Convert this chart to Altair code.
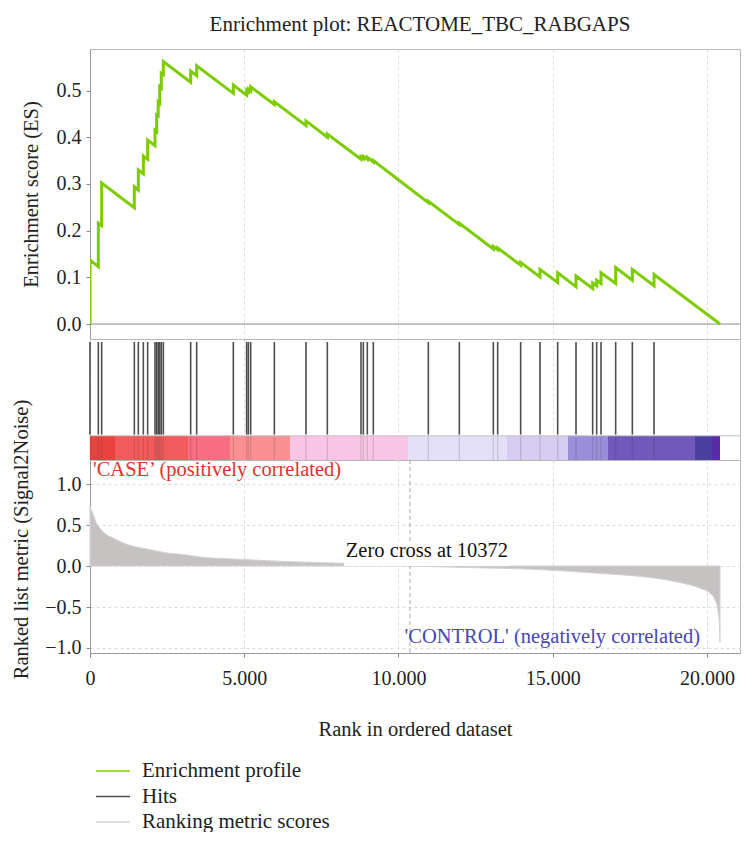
import altair as alt
import pandas as pd

TITLE = "Enrichment plot: REACTOME_TBC_RABGAPS"
N_GENES = 20422
ZERO_CROSS = 10372
X_MAX = 21070

# ---- hits (rank positions) and running ES just before / after each hit ----
hit_ranks = [0, 270, 378, 1437, 1567, 1729, 1869, 2107, 2161, 2210, 2260, 2310, 2377,
             3263, 3458, 4646, 5078, 5132, 5208, 5975, 7001, 7693, 8784, 8860, 8989, 9184,
             10967, 11972, 13074, 13215, 13960, 14587, 15160, 15754, 16294, 16424, 16565,
             17040, 17580, 18283]
es_before = [0.000, 0.123, 0.211, 0.249, 0.287, 0.322, 0.353, 0.382, 0.412, 0.446, 0.473, 0.505, 0.534,
             0.518, 0.532, 0.494, 0.490, 0.497, 0.499, 0.470, 0.425, 0.400, 0.353, 0.354, 0.353, 0.347,
             0.260, 0.213, 0.161, 0.159, 0.126, 0.101, 0.089, 0.080, 0.076, 0.082, 0.087,
             0.087, 0.094, 0.082]
es_after = [0.137, 0.216, 0.302, 0.294, 0.330, 0.360, 0.394, 0.415, 0.448, 0.476, 0.508, 0.537, 0.562,
            0.542, 0.553, 0.512, 0.500, 0.503, 0.508, 0.476, 0.435, 0.407, 0.358, 0.359, 0.357, 0.350,
            0.263, 0.216, 0.166, 0.163, 0.132, 0.117, 0.110, 0.103, 0.088, 0.094, 0.110,
            0.121, 0.117, 0.106]

# ---- ranked list metric ----
metric_ranks = [0, 108, 216, 324, 540, 756, 1080, 1405, 1945, 2485, 3025, 3565, 4646, 5726,
                6807, 7887, 10372, 12415, 14360, 16530, 18150, 19220, 19770, 20096, 20260,
                20360, 20410, 20422]
metric_values = [0.72, 0.62, 0.52, 0.46, 0.38, 0.34, 0.28, 0.24, 0.20, 0.16, 0.14, 0.11, 0.085, 0.065,
                 0.049, 0.037, 0.0, -0.02, -0.04, -0.09, -0.14, -0.21, -0.27, -0.33, -0.41,
                 -0.55, -0.75, -0.93]

# ---- colour bar segments ----
bar_starts = [0, 810, 3177, 4538, 6483, 10308, 13517, 15494, 16791, 19611, 20162]
bar_ends = [810, 3177, 4538, 6483, 10308, 13517, 15494, 16791, 19611, 20162, 20422]
bar_colors = ["#e8433f", "#f25b5b", "#f76d82", "#fa9092", "#f8c6e4", "#e3dff6",
              "#d7ccf1", "#9a8edb", "#7059bb", "#4b3fa0", "#5b2aa8"]

x_ticks = [0, 5000, 10000, 15000, 20000]
es_ticks = [0.0, 0.1, 0.2, 0.3, 0.4, 0.5]
metric_ticks = [-1.0, -0.5, 0.0, 0.5, 1.0]

series_names = ["Enrichment profile", "Hits", "Ranking metric scores"]
series_colors = ["#7ccc00", "#4d4d4d", "#d3d3d3"]

case_label = "'CASE\u2019 (positively correlated)"
control_label = "'CONTROL' (negatively correlated)"
zero_label = f"Zero cross at {ZERO_CROSS}"

FONT = "Liberation Serif, DejaVu Serif, serif"

# ---- tables ----
pts_rank = [0]
pts_es = [0.0]
for r, b, a in zip(hit_ranks, es_before, es_after):
    pts_rank += [r, r]
    pts_es += [b, a]
pts_rank.append(N_GENES)
pts_es.append(0.0)
es_df = pd.DataFrame({"rank": pts_rank, "es": pts_es, "idx": range(len(pts_rank)),
                      "series": series_names[0]})
hits_df = pd.DataFrame({"rank": hit_ranks, "series": series_names[1]})
metric_df = pd.DataFrame({"rank": metric_ranks, "value": metric_values, "series": series_names[2]})
bar_df = pd.DataFrame({"start": bar_starts, "end": bar_ends, "color": bar_colors})
one = pd.DataFrame({"k": [0]})

W = 650
xscale = alt.Scale(domain=[0, X_MAX], nice=False, zero=False)
stroke_scale = alt.Scale(domain=series_names, range=series_colors)
legend = alt.Legend(title=None, orient="none", legendX=12, legendY=711, direction="vertical",
                    symbolType="M-1.7,0H1.7", symbolSize=400, symbolStrokeWidth=1.5,
                    labelFontSize=21, labelFont=FONT, labelColor="#222", labelOffset=18,
                    labelLimit=400, rowPadding=4.5, padding=0)
hidden_x = alt.Axis(values=x_ticks, labels=False, ticks=False, domain=False, grid=True, title=None)

# ---- panel A: enrichment score ----
es_scale = alt.Scale(domain=[-0.032, 0.589], nice=False, zero=False)
zero_rule = alt.Chart(one).mark_rule(color="#8a8a8a", strokeWidth=1).encode(
    y=alt.YDatum(0, scale=es_scale))
es_line = alt.Chart(es_df).mark_line(strokeWidth=3, clip=True).encode(
    x=alt.X("rank:Q", scale=xscale, axis=hidden_x),
    y=alt.Y("es:Q", scale=es_scale,
            axis=alt.Axis(values=es_ticks, format=".1f", title="Enrichment score (ES)",
                          titlePadding=15)),
    order="idx:Q",
    stroke=alt.Stroke("series:N", scale=stroke_scale, legend=legend),
)
panel_a = alt.layer(zero_rule, es_line).properties(width=W, height=290)

# ---- panel B: hits + colour bar ----
hb_scale = alt.Scale(domain=[0, 1], nice=False, zero=False)
bar = alt.Chart(bar_df).mark_rect().encode(
    x=alt.X("start:Q", scale=xscale, axis=hidden_x),
    x2="end:Q",
    y=alt.YDatum(0, scale=hb_scale, axis=None),
    y2=alt.Y2Datum(0.2),
    color=alt.Color("color:N", scale=None),
)
bar_hits = alt.Chart(hits_df).mark_rule(color="#333333", opacity=0.18, strokeWidth=1.2).encode(
    x=alt.X("rank:Q", scale=xscale),
    y=alt.YDatum(0.2, scale=hb_scale),
    y2=alt.Y2Datum(0),
)
sep = alt.Chart(one).mark_rule(color="#c4c4c4").encode(y=alt.YDatum(0.2, scale=hb_scale))
hits = alt.Chart(hits_df).mark_rule(strokeWidth=1.6).encode(
    x=alt.X("rank:Q", scale=xscale),
    y=alt.YDatum(0.975, scale=hb_scale),
    y2=alt.Y2Datum(0.21),
    stroke=alt.Stroke("series:N", scale=stroke_scale, legend=legend),
)
panel_b = alt.layer(bar, bar_hits, sep, hits).properties(width=W, height=121)

# ---- panel C: ranked list metric ----
m_scale = alt.Scale(domain=[-1.061, 1.293], nice=False, zero=False)
area = alt.Chart(metric_df).mark_area(fill="#c6c2c2", opacity=1, strokeWidth=1,
                                      interpolate="monotone").encode(
    x=alt.X("rank:Q", scale=xscale,
            axis=alt.Axis(values=x_ticks, title="Rank in ordered dataset", grid=True,
                          labelExpr="replace(format(datum.value, ','), ',', '.')",
                          labelFlush=False, labelPadding=11, titlePadding=31,
                          titleFontSize=20.5)),
    y=alt.Y("value:Q", scale=m_scale,
            axis=alt.Axis(values=metric_ticks, format=".1f", titleFontSize=20.5,
                          title="Ranked list metric (Signal2Noise)", titlePadding=13, titleY=79)),
    stroke=alt.Stroke("series:N", scale=stroke_scale, legend=legend),
)
zc_rule = alt.Chart(one).mark_rule(color="#a8a8a8", strokeDash=[4, 3]).encode(
    x=alt.XDatum(ZERO_CROSS, scale=xscale))
zc_box = alt.Chart(one).mark_rect(color="white", xOffset=-66, x2Offset=100, yOffset=0,
                                  y2Offset=-25).encode(
    x=alt.XDatum(ZERO_CROSS, scale=xscale), x2=alt.X2Datum(ZERO_CROSS),
    y=alt.YDatum(0, scale=m_scale), y2=alt.Y2Datum(0))
zc_text = alt.Chart(one).mark_text(text=zero_label, font=FONT, fontSize=20.5, color="#111",
                                   align="center", baseline="bottom", dx=17, dy=-5).encode(
    x=alt.XDatum(ZERO_CROSS, scale=xscale), y=alt.YDatum(0, scale=m_scale))
case_text = alt.Chart(one).mark_text(text=case_label, font=FONT, fontSize=20.5, color="#e3322c",
                                     align="left", baseline="top", dx=3, dy=0).encode(
    x=alt.XDatum(0, scale=xscale), y=alt.YDatum(1.293, scale=m_scale))
ctrl_text = alt.Chart(one).mark_text(text=control_label, font=FONT, fontSize=20.5, color="#4646b4",
                                     align="right", baseline="bottom", dx=-20, dy=-6).encode(
    x=alt.XDatum(N_GENES, scale=xscale), y=alt.YDatum(-1.061, scale=m_scale))
panel_c = alt.layer(area, zc_rule, zc_box, zc_text, case_text, ctrl_text).properties(width=W, height=193)

chart = alt.vconcat(panel_a, panel_b, panel_c, spacing=0, bounds="flush").properties(
    title=alt.TitleParams(TITLE, font=FONT, fontSize=21, fontWeight="normal", color="#222",
                          offset=14, anchor="middle", frame="group", dx=5),
    padding={"left": 3, "top": 5, "right": 0, "bottom": 0},
).configure_view(stroke="#b8b8b8").configure_axis(
    labelFont=FONT, labelFontSize=20, labelColor="#222",
    titleFont=FONT, titleFontSize=20.5, titleFontWeight="normal", titleColor="#222",
    gridColor="#dcdcdc", gridDash=[3, 3], tickColor="#888888", tickSize=4,
    domainColor="#999999", labelPadding=5,
)

chart.save("out.html", embed_options={"renderer": "svg", "actions": False})
